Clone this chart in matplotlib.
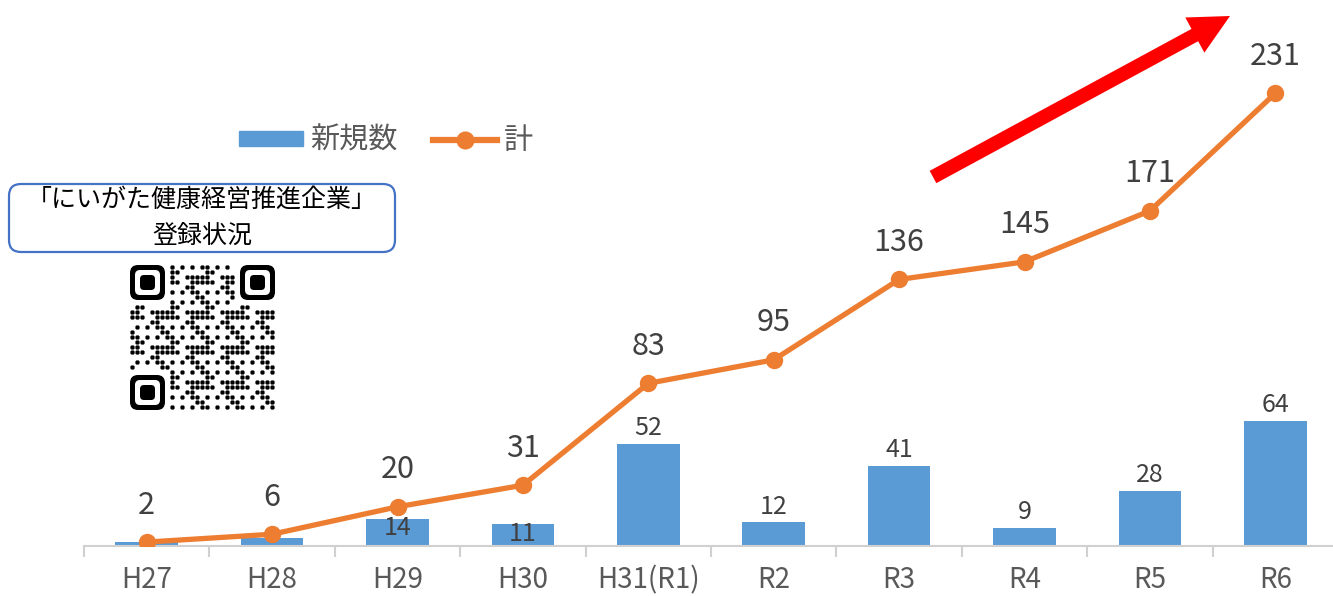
import numpy as np
import matplotlib.pyplot as plt
from matplotlib.patches import FancyBboxPatch, FancyArrow, Rectangle
from matplotlib.lines import Line2D

plt.rcParams['font.family'] = ['Noto Sans CJK JP', 'DejaVu Sans']

years = ['H27', 'H28', 'H29', 'H30', 'H31(R1)', 'R2', 'R3', 'R4', 'R5', 'R6']
new_counts = [2, 4, 14, 11, 52, 12, 41, 9, 28, 64]
totals = [2, 6, 20, 31, 83, 95, 136, 145, 171, 231]
bar_label_show = [False, False, True, True, True, True, True, True, True, True]
# labels of H29/H30 sit low, overlapping the bar top (moved off the line)
bar_label_inside = [False, False, True, True, False, False, False, False, False, False]

BLUE = '#5B9BD5'
ORANGE = '#ED7D31'
GRAY = '#595959'

W, H = 1333, 596
fig = plt.figure(figsize=(W / 100, H / 100), dpi=100)

# main chart axes (right edge spills slightly past the image, as in the original)
ax = fig.add_axes([84 / W, 50 / H, 1254 / W, 546 / H])
x = np.arange(len(years))
ax.bar(x, new_counts, width=0.5, color=BLUE, zorder=2)
ax.plot(x, totals, color=ORANGE, lw=3.8, marker='o', ms=11.5, zorder=3,
        solid_capstyle='round')

for xi, v, show, inside in zip(x, new_counts, bar_label_show, bar_label_inside):
    if not show:
        continue
    if inside:
        ax.text(xi, v - 5, str(v), ha='center', va='center', fontsize=18,
                color='#404040', zorder=4)
    else:
        ax.text(xi, v + 1.5, str(v), ha='center', va='bottom', fontsize=18,
                color='#404040', zorder=4)
for xi, v in zip(x, totals):
    ax.text(xi, v + 11, str(v), ha='center', va='bottom', fontsize=22,
            color='#404040', zorder=4)

ax.set_xlim(-0.5, 9.5)
ax.set_ylim(0, 278.6)
for s in ['top', 'right', 'left']:
    ax.spines[s].set_visible(False)
ax.spines['bottom'].set_color('#D0D0D0')
ax.spines['bottom'].set_linewidth(1.5)
ax.set_yticks([])
ax.set_xticks(x)
ax.set_xticklabels(years, fontsize=20, color=GRAY)
ax.set_xticks(np.arange(-0.5, 10, 1), minor=True)
ax.tick_params(axis='x', which='major', length=0, pad=14)
ax.tick_params(axis='x', which='minor', length=8, color='#D0D0D0', width=1.5)

handles = [Rectangle((0, 0), 1, 1, color=BLUE),
           Line2D([], [], color=ORANGE, lw=4.5, marker='o', ms=12)]
fig.legend(handles, ['新規数', '計'], loc='center', bbox_to_anchor=(386 / W, 1 - 141 / H),
           ncol=2, frameon=False, fontsize=21, labelcolor=GRAY, handlelength=2.2,
           handleheight=0.45, handletextpad=0.25, columnspacing=1.2)

# overlay in pixel coordinates for the box, QR code and arrow
ov = fig.add_axes([0, 0, 1, 1], zorder=5)
ov.set_xlim(0, W)
ov.set_ylim(H, 0)
ov.axis('off')
ov.patch.set_alpha(0)

box = FancyBboxPatch((9, 184), 386, 68, boxstyle='round,pad=0,rounding_size=12',
                     fc='white', ec='#4472C4', lw=1.6)
ov.add_patch(box)
ov.text(202, 200, '「にいがた健康経営推進企業」', ha='center', va='center',
        fontsize=18, color='black')
ov.text(202, 236, '登録状況', ha='center', va='center', fontsize=18, color='black')

# QR-like decoration
n = 29
m = 5.0
x0, y0 = 130, 265
ii, jj = np.meshgrid(np.arange(n), np.arange(n), indexing='ij')
pattern = ((ii * ii * 3 + jj * jj * 5 + ii * jj * 11 + ii + 2 * jj) % 7 < 3)
finder = ((ii < 8) & (jj < 8)) | ((ii < 8) & (jj > n - 9)) | ((ii > n - 9) & (jj < 8))
pattern &= ~finder
ys, xs = np.nonzero(pattern)
for r, c in zip(ys, xs):
    ov.add_patch(FancyBboxPatch((x0 + c * m + 0.4, y0 + r * m + 0.4), m - 0.8, m - 0.8,
                                boxstyle='round,pad=0,rounding_size=1.5',
                                fc='black', ec='none'))
for (r, c) in [(0, 0), (0, n - 7), (n - 7, 0)]:
    ov.add_patch(FancyBboxPatch((x0 + c * m, y0 + r * m), 7 * m, 7 * m,
                                boxstyle='round,pad=0,rounding_size=8',
                                fc='black', ec='none'))
    ov.add_patch(FancyBboxPatch((x0 + c * m + m, y0 + r * m + m), 5 * m, 5 * m,
                                boxstyle='round,pad=0,rounding_size=5',
                                fc='white', ec='none'))
    ov.add_patch(FancyBboxPatch((x0 + c * m + 2 * m, y0 + r * m + 2 * m), 3 * m, 3 * m,
                                boxstyle='round,pad=0,rounding_size=4',
                                fc='black', ec='none'))

# red trend arrow
ov.add_patch(FancyArrow(933, 177, 1230 - 933, 16 - 177, width=14, head_width=40,
                        head_length=40, length_includes_head=True,
                        fc='#FF0000', ec='none'))

fig.savefig('out.png', dpi=100)
